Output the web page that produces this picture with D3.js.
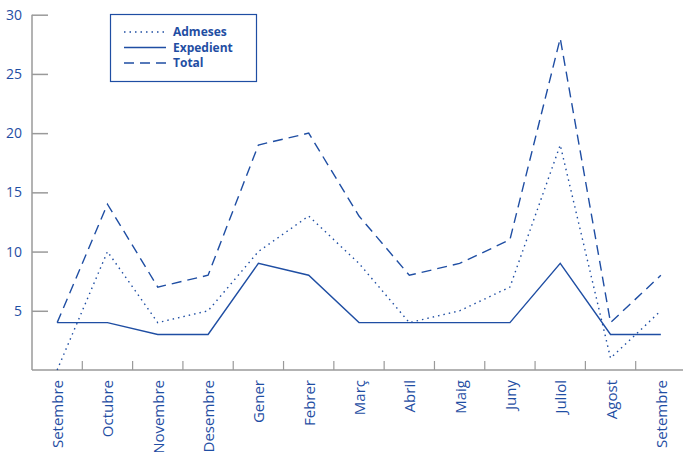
<!DOCTYPE html>
<html>
<head>
<meta charset="utf-8">
<script src="https://cdn.jsdelivr.net/npm/d3@7"></script>
<style>
  body { margin: 0; background: #fff; }
  svg text { font-family: "Open Sans", sans-serif; fill: #1f4ea3; }
</style>
</head>
<body>
<div id="chart"></div>
<script>
var months = ["Setembre", "Octubre", "Novembre", "Desembre", "Gener", "Febrer", "Març", "Abril", "Maig", "Juny", "Juliol", "Agost", "Setembre "]
var admeses = [0, 10, 4, 5, 10, 13, 9, 4, 5, 7, 19, 1, 5]
var expedient = [4, 4, 3, 3, 9, 8, 4, 4, 4, 4, 9, 3, 3]
var total = [4, 14, 7, 8, 19, 20, 13, 8, 9, 11, 28, 4, 8]
var yTicks = [5, 10, 15, 20, 25, 30]

var blue = "#1f4ea3"
var grey = "#9a9a9a"

var svg = d3.select("#chart").append("svg")
    .attr("width", 683)
    .attr("height", 452)

var x = d3.scaleBand()
    .domain(d3.range(months.length))
    .range([32, 686])

var y = d3.scaleLinear()
    .domain([0, 30])
    .range([370, 14.7])

// y axis
var yAxis = d3.axisRight(y)
    .tickValues(yTicks)
    .tickSize(16)
    .tickFormat("")
var gy = svg.append("g")
    .attr("transform", "translate(32,0)")
    .call(yAxis)
gy.select(".domain").remove()
gy.selectAll(".tick line").attr("stroke", grey).attr("stroke-width", 1.5)
svg.append("line")
    .attr("x1", 32).attr("x2", 32)
    .attr("y1", y(30)).attr("y2", 370)
    .attr("stroke", grey).attr("stroke-width", 1.5)

svg.selectAll(".ylab")
    .data(yTicks)
    .enter()
    .append("text")
    .attr("class", "ylab")
    .attr("x", 22)
    .attr("y", function (d) { return y(d) })
    .attr("dy", "0.36em")
    .attr("text-anchor", "end")
    .style("font-size", "14px")
    .text(function (d) { return d })

// x axis: ticks between categories, pointing up
var xTicks = d3.range(1, months.length).map(function (i) { return x(i) })
svg.append("line")
    .attr("x1", 32).attr("x2", 683)
    .attr("y1", 370).attr("y2", 370)
    .attr("stroke", grey).attr("stroke-width", 1.5)
svg.selectAll(".xtick")
    .data(xTicks)
    .enter()
    .append("line")
    .attr("x1", function (d) { return d })
    .attr("x2", function (d) { return d })
    .attr("y1", 361).attr("y2", 370)
    .attr("stroke", grey).attr("stroke-width", 1.2)

svg.selectAll(".xlab")
    .data(months)
    .enter()
    .append("text")
    .attr("class", "xlab")
    .attr("transform", function (d, i) {
        return "translate(" + (x(i) + x.bandwidth() / 2 + 6) + ",380) rotate(-90)"
    })
    .attr("text-anchor", "end")
    .style("font-size", "15px")
    .text(function (d) { return d.trim() })

// lines
var line = d3.line()
    .x(function (d, i) { return x(i) + x.bandwidth() / 2 })
    .y(function (d) { return y(d) })

var series = [
    { name: "Admeses", values: admeses, dash: "1.5,4" },
    { name: "Expedient", values: expedient, dash: null },
    { name: "Total", values: total, dash: "10,6" }
]

series.forEach(function (s) {
    svg.append("path")
        .datum(s.values)
        .attr("d", line)
        .attr("fill", "none")
        .attr("stroke", blue)
        .attr("stroke-width", 1.4)
        .attr("stroke-dasharray", s.dash)
})

// legend
var legend = svg.append("g")
legend.append("rect")
    .attr("x", 110.5).attr("y", 14.5)
    .attr("width", 146).attr("height", 67)
    .attr("fill", "white")
    .attr("stroke", blue).attr("stroke-width", 1.2)

series.forEach(function (s, i) {
    var ly = 32 + i * 15.5
    legend.append("line")
        .attr("x1", 124).attr("x2", 166)
        .attr("y1", ly).attr("y2", ly)
        .attr("stroke", blue).attr("stroke-width", 1.4)
        .attr("stroke-dasharray", s.dash)
    legend.append("text")
        .attr("x", 173).attr("y", ly)
        .attr("dy", "0.35em")
        .style("font-size", "12px")
        .style("font-weight", "bold")
        .text(s.name)
})
</script>
</body>
</html>
